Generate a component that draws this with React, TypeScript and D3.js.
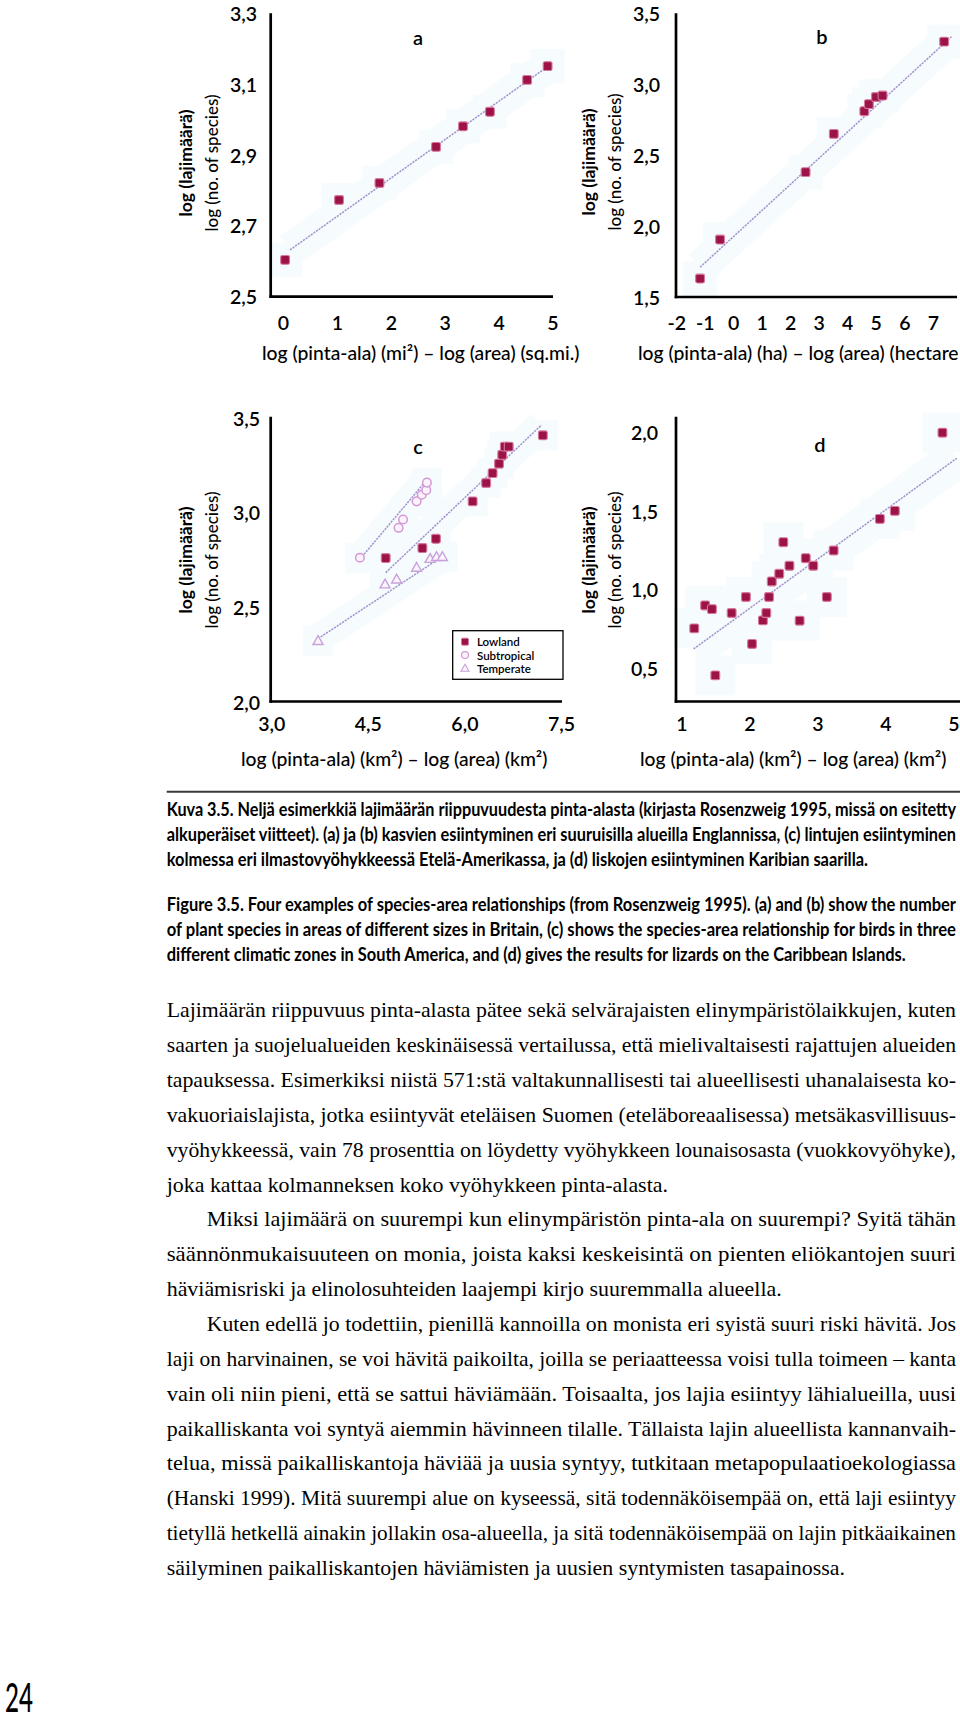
import React, { useLayoutEffect, useRef } from "react";
import * as d3 from "d3";

// ---------- data ----------
// panel a: plants in Britain (log area sq.mi. vs log species)
const aX = [0.03, 1.03, 1.78, 2.83, 3.33, 3.83, 4.52, 4.9];
const aY = [2.604, 2.773, 2.821, 2.923, 2.981, 3.022, 3.112, 3.151];
const aFit = [0.12, 2.632, 4.95, 3.155];
const aTicksX = [0, 1, 2, 3, 4, 5];
const aTicksY = [2.5, 2.7, 2.9, 3.1, 3.3];

// panel b: plants in Britain (hectares)
const bX = [-1.18, -0.48, 2.52, 3.51, 4.58, 4.74, 4.99, 5.22, 7.38];
const bY = [1.63, 1.905, 2.38, 2.65, 2.81, 2.86, 2.91, 2.92, 3.3];
const bFit = [-1.18, 1.71, 7.64, 3.335];
const bTicksX = [-2, -1, 0, 1, 2, 3, 4, 5, 6, 7];
const bTicksY = [1.5, 2.0, 2.5, 3.0, 3.5];

// panel c: birds in South America
const lowlandX = [4.77, 5.34, 5.55, 6.12, 6.33, 6.43, 6.53, 6.58, 6.62, 6.68, 7.21];
const lowlandY = [2.761, 2.814, 2.863, 3.061, 3.158, 3.21, 3.26, 3.307, 3.35, 3.35, 3.41];
const lowlandFit = [4.77, 2.684, 7.19, 3.465];
const subtropicalX = [4.37, 4.97, 5.04, 5.25, 5.33, 5.4, 5.41];
const subtropicalY = [2.763, 2.921, 2.965, 3.061, 3.096, 3.12, 3.16];
const subtropicalFit = [4.37, 2.755, 5.41, 3.175];
const temperateX = [3.72, 4.76, 4.94, 5.25, 5.46, 5.56, 5.65];
const temperateY = [2.324, 2.623, 2.649, 2.711, 2.758, 2.768, 2.768];
const temperateFit = [3.72, 2.335, 5.66, 2.772];
const cTicksX = [3.0, 4.5, 6.0, 7.5];
const cTicksY = [2.0, 2.5, 3.0, 3.5];
const cLegend = ["Lowland", "Subtropical", "Temperate"];

// panel d: lizards on Caribbean islands
const dX = [1.18, 1.34, 1.44, 1.49, 1.73, 1.94, 2.03, 2.19, 2.24, 2.28, 2.32, 2.43, 2.49, 2.58, 2.73, 2.82, 2.93, 3.13, 3.23, 3.91, 4.13, 4.83];
const dY = [0.754, 0.9, 0.877, 0.455, 0.852, 0.954, 0.655, 0.805, 0.852, 0.954, 1.053, 1.102, 1.303, 1.153, 0.803, 1.201, 1.153, 0.954, 1.25, 1.451, 1.502, 2.0];
const dFit = [1.17, 0.623, 5.04, 1.837];
const dTicksX = [1, 2, 3, 4, 5];
const dTicksY = [0.5, 1.0, 1.5, 2.0];

const panelTitles = ["a", "b", "c", "d"];
const yTitle1 = "log (lajimäärä)";
const yTitle2 = "log (no. of species)";
const xTitles = [
  "log (pinta-ala) (mi²) – log (area) (sq.mi.)",
  "log (pinta-ala) (ha) – log (area) (hectare",
  "log (pinta-ala) (km²) – log (area) (km²)",
  "log (pinta-ala) (km²) – log (area) (km²)",
];

const captionFi = [
  "Kuva 3.5. Neljä esimerkkiä lajimäärän riippuvuudesta pinta-alasta (kirjasta Rosenzweig 1995, missä on esitetty",
  "alkuperäiset viitteet). (a) ja (b) kasvien esiintyminen eri suuruisilla alueilla Englannissa, (c) lintujen esiintyminen",
  "kolmessa eri ilmastovyöhykkeessä Etelä-Amerikassa, ja (d) liskojen esiintyminen Karibian saarilla.",
];
const captionEn = [
  "Figure 3.5. Four examples of species-area relationships (from Rosenzweig 1995). (a) and (b) show the number",
  "of plant species in areas of different sizes in Britain, (c) shows the species-area relationship for birds in three",
  "different climatic zones in South America, and (d) gives the results for lizards on the Caribbean Islands.",
];
const bodyLines = [
  "Lajimäärän riippuvuus pinta-alasta pätee sekä selvärajaisten elinympäristölaikkujen, kuten",
  "saarten ja suojelualueiden keskinäisessä vertailussa, että mielivaltaisesti rajattujen alueiden",
  "tapauksessa. Esimerkiksi niistä 571:stä valtakunnallisesti tai alueellisesti uhanalaisesta ko-",
  "vakuoriaislajista, jotka esiintyvät eteläisen Suomen (eteläboreaalisessa) metsäkasvillisuus-",
  "vyöhykkeessä, vain 78 prosenttia on löydetty vyöhykkeen lounaisosasta (vuokkovyöhyke),",
  "joka kattaa kolmanneksen koko vyöhykkeen pinta-alasta.",
  "Miksi lajimäärä on suurempi kun elinympäristön pinta-ala on suurempi? Syitä tähän",
  "säännönmukaisuuteen on monia, joista kaksi keskeisintä on pienten eliökantojen suuri",
  "häviämisriski ja elinolosuhteiden laajempi kirjo suuremmalla alueella.",
  "Kuten edellä jo todettiin, pienillä kannoilla on monista eri syistä suuri riski hävitä. Jos",
  "laji on harvinainen, se voi hävitä paikoilta, joilla se periaatteessa voisi tulla toimeen – kanta",
  "vain oli niin pieni, että se sattui häviämään. Toisaalta, jos lajia esiintyy lähialueilla, uusi",
  "paikalliskanta voi syntyä aiemmin hävinneen tilalle. Tällaista lajin alueellista kannanvaih-",
  "telua, missä paikalliskantoja häviää ja uusia syntyy, tutkitaan metapopulaatioekologiassa",
  "(Hanski 1999). Mitä suurempi alue on kyseessä, sitä todennäköisempää on, että laji esiintyy",
  "tietyllä hetkellä ainakin jollakin osa-alueella, ja sitä todennäköisempää on lajin pitkäaikainen",
  "säilyminen paikalliskantojen häviämisten ja uusien syntymisten tasapainossa.",
];
const bodyIndented = [6, 9];
const bodyLastLines = [5, 8, 16];
const pageNumber = "24";

// ---------- styling ----------
const SANS = "Lato, 'Open Sans', sans-serif";
const SERIF = "'Liberation Serif', 'DejaVu Serif', serif";
const DOT = "#9c1447";
const DOT_EDGE = "#d6789f";
const OPEN_C = "#d49ad6";
const OPEN_T = "#c8a0da";
const FIT = "#a393cf";
const HALO = "#d8f3f7";

const fmtDec = (v: number) => d3.format(".1f")(v).replace(".", ",");
const fmtInt = (v: number) => String(v);

type Series = { xs: number[]; ys: number[]; fit: number[]; kind: "sq" | "circ" | "tri" };

type PanelCfg = {
  title: string;
  x: d3.ScaleLinear<number, number>;
  y: d3.ScaleLinear<number, number>;
  axX: number;
  axY: number;
  yTop: number;
  xEnd: number;
  ticksX: number[];
  ticksY: number[];
  fmtX: (v: number) => string;
  fmtY: (v: number) => string;
  xLabelY: number;
  yLabelRight: number;
  titlePos: [number, number];
  yTitleX: [number, number];
  yTitleCy: number;
  xTitle: string;
  xTitlePos: [number, number];
  series: Series[];
  halo: number;
};

const panels: PanelCfg[] = [
  {
    title: panelTitles[0],
    x: d3.scaleLinear().domain([0, 5]).range([283.5, 553]),
    y: d3.scaleLinear().domain([2.5, 3.3]).range([296.7, 13.3]),
    axX: 270.7, axY: 296.7, yTop: 13.3, xEnd: 553,
    ticksX: aTicksX, ticksY: aTicksY, fmtX: fmtInt, fmtY: fmtDec,
    xLabelY: 322, yLabelRight: 257,
    titlePos: [418, 37], yTitleX: [185, 211], yTitleCy: 163,
    xTitle: xTitles[0], xTitlePos: [262, 352],
    series: [{ xs: aX, ys: aY, fit: aFit, kind: "sq" }], halo: 34,
  },
  {
    title: panelTitles[1],
    x: d3.scaleLinear().domain([-2, 7]).range([676.7, 933.3]),
    y: d3.scaleLinear().domain([1.5, 3.5]).range([297, 13.3]),
    axX: 676, axY: 297, yTop: 13.3, xEnd: 957,
    ticksX: bTicksX, ticksY: bTicksY, fmtX: fmtInt, fmtY: fmtDec,
    xLabelY: 322, yLabelRight: 660,
    titlePos: [822, 36], yTitleX: [588, 614], yTitleCy: 162,
    xTitle: xTitles[1], xTitlePos: [638, 352],
    series: [{ xs: bX, ys: bY, fit: bFit, kind: "sq" }], halo: 34,
  },
  {
    title: panelTitles[2],
    x: d3.scaleLinear().domain([3, 7.5]).range([271.7, 561.5]),
    y: d3.scaleLinear().domain([2, 3.5]).range([702, 418.3]),
    axX: 270.7, axY: 701.5, yTop: 416.7, xEnd: 562,
    ticksX: cTicksX, ticksY: cTicksY, fmtX: fmtDec, fmtY: fmtDec,
    xLabelY: 723, yLabelRight: 260,
    titlePos: [418, 446], yTitleX: [185, 211], yTitleCy: 560,
    xTitle: xTitles[2], xTitlePos: [241, 758],
    series: [
      { xs: lowlandX, ys: lowlandY, fit: lowlandFit, kind: "sq" },
      { xs: subtropicalX, ys: subtropicalY, fit: subtropicalFit, kind: "circ" },
      { xs: temperateX, ys: temperateY, fit: temperateFit, kind: "tri" },
    ], halo: 30,
  },
  {
    title: panelTitles[3],
    x: d3.scaleLinear().domain([1, 5]).range([682, 954]),
    y: d3.scaleLinear().domain([0.5, 2.0]).range([668.3, 432.7]),
    axX: 676, axY: 701.5, yTop: 416.7, xEnd: 960,
    ticksX: dTicksX, ticksY: dTicksY, fmtX: fmtInt, fmtY: fmtDec,
    xLabelY: 723, yLabelRight: 658,
    titlePos: [820, 444], yTitleX: [588, 614], yTitleCy: 560,
    xTitle: xTitles[3], xTitlePos: [640, 758],
    series: [{ xs: dX, ys: dY, fit: dFit, kind: "sq" }], halo: 40,
  },
];

function Marker({ kind, cx, cy }: { kind: string; cx: number; cy: number }) {
  if (kind === "sq") {
    return (
      <rect x={cx - 4.4} y={cy - 4.4} width={8.8} height={8.8} rx={1.6}
        fill={DOT} stroke={DOT_EDGE} strokeWidth={1.1} />
    );
  }
  if (kind === "circ") {
    return <circle cx={cx} cy={cy} r={4.3} fill="#fbf2fb" stroke={OPEN_C} strokeWidth={1.5} />;
  }
  const s = 5;
  const p = `M${cx},${cy - s}L${cx + s},${cy + s * 0.75}L${cx - s},${cy + s * 0.75}Z`;
  return <path d={p} fill="#fbf4fd" stroke={OPEN_T} strokeWidth={1.4} />;
}

function Panel({ p }: { p: PanelCfg }) {
  const line = d3.line<[number, number]>().x((d) => p.x(d[0])).y((d) => p.y(d[1]));
  return (
    <g>
      {/* very faint cyan background blotches */}
      <g opacity={0.22}>
        {p.series.map((s, si) => (
          <g key={"h" + si}>
            <path d={line([[s.fit[0], s.fit[1]], [s.fit[2], s.fit[3]]]) || ""}
              stroke={HALO} strokeWidth={p.halo} fill="none" strokeLinecap="butt" />
            {s.xs.map((xv, i) => (
              <rect key={i} x={p.x(xv) - p.halo / 2} y={p.y(s.ys[i]) - p.halo / 2}
                width={p.halo} height={p.halo} fill={HALO} />
            ))}
          </g>
        ))}
      </g>
      {/* regression lines */}
      {p.series.map((s, si) => (
        <path key={"f" + si} d={line([[s.fit[0], s.fit[1]], [s.fit[2], s.fit[3]]]) || ""}
          stroke={FIT} strokeWidth={1.5} fill="none" strokeDasharray="2.2,1" />
      ))}
      {/* points */}
      {p.series.map((s, si) => (
        <g key={"p" + si}>
          {s.xs.map((xv, i) => (
            <Marker key={i} kind={s.kind} cx={p.x(xv)} cy={p.y(s.ys[i])} />
          ))}
        </g>
      ))}
      {/* axes */}
      <line x1={p.axX} x2={p.axX} y1={p.yTop} y2={p.axY + 1.3} stroke="#000" strokeWidth={2.7} />
      <line x1={p.axX - 1.3} x2={p.xEnd} y1={p.axY} y2={p.axY} stroke="#000" strokeWidth={2.7} />
      {/* tick labels */}
      {p.ticksY.map((t) => (
        <text key={"ty" + t} x={p.yLabelRight} y={p.y(t)} textAnchor="end" dominantBaseline="central"
          fontFamily={SANS} fontSize={19.5} fontWeight={600}>{p.fmtY(t)}</text>
      ))}
      {p.ticksX.map((t) => (
        <text key={"tx" + t} x={p.x(t)} y={p.xLabelY} textAnchor="middle" dominantBaseline="central"
          fontFamily={SANS} fontSize={19.5} fontWeight={600}>{p.fmtX(t)}</text>
      ))}
      {/* panel letter */}
      <text x={p.titlePos[0]} y={p.titlePos[1]} textAnchor="middle" dominantBaseline="central"
        fontFamily={SANS} fontSize={20} fontWeight={600}>{p.title}</text>
      {/* y title */}
      <text transform={`translate(${p.yTitleX[0]},${p.yTitleCy}) rotate(-90)`} textAnchor="middle"
        dominantBaseline="central" fontFamily={SANS} fontSize={17.5} fontWeight={700}>{yTitle1}</text>
      <text transform={`translate(${p.yTitleX[1]},${p.yTitleCy}) rotate(-90)`} textAnchor="middle"
        dominantBaseline="central" fontFamily={SANS} fontSize={17} fontWeight={500}>{yTitle2}</text>
      {/* x title */}
      <text x={p.xTitlePos[0]} y={p.xTitlePos[1]} dominantBaseline="central"
        fontFamily={SANS} fontSize={19.3} fontWeight={500}>{p.xTitle}</text>
    </g>
  );
}

function Legend() {
  const x0 = 452.7, y0 = 630.7, w = 110.3, h = 48.6;
  const rows = [641.7, 655, 668.3];
  const kinds = ["sq", "circ", "tri"];
  return (
    <g>
      <rect x={x0} y={y0} width={w} height={h} fill="#fff" stroke="#000" strokeWidth={1.3} />
      {cLegend.map((name, i) => (
        <g key={name}>
          <g transform={`translate(${465},${rows[i]}) scale(0.8) translate(${-465},${-rows[i]})`}>
            <Marker kind={kinds[i]} cx={465} cy={rows[i]} />
          </g>
          <text x={477} y={rows[i]} dominantBaseline="central" fontFamily={SANS} fontSize={11.5}
            fontWeight={600}>{name}</text>
        </g>
      ))}
    </g>
  );
}

const LEFT = 166.7;
const RIGHT = 956;
const INDENT = 40;

export default function App() {
  const ref = useRef<SVGSVGElement>(null);

  useLayoutEffect(() => {
    const fit = () => {
      if (!ref.current) return;
      const svg = d3.select(ref.current);
      ["cap", "body"].forEach((group) => {
        const nodes = svg.selectAll<SVGTextElement, unknown>(`text[data-group='${group}']`).nodes();
        const nat: number[] = [];
        const ratios: number[] = [];
        nodes.forEach((n) => {
          n.removeAttribute("textLength");
          const w = n.getComputedTextLength();
          nat.push(w);
          const t = n.getAttribute("data-target");
          if (t) ratios.push(+t / w);
        });
        const r = d3.mean(ratios) ?? 1;
        nodes.forEach((n, i) => {
          const t = n.getAttribute("data-target");
          n.setAttribute("textLength", String(t ? +t : nat[i] * r));
          n.setAttribute("lengthAdjust", "spacingAndGlyphs");
        });
      });
    };
    fit();
    if ((document as any).fonts?.ready) (document as any).fonts.ready.then(fit);
  }, []);

  const capSpacing = 25;
  const capFiBase = 816;
  const capEnBase = 910.5;
  const bodyBase = 1017.3;
  const bodySpacing = 34.85;

  return (
    <svg ref={ref} width={960} height={1727} viewBox="0 0 960 1727"
      style={{ position: "absolute", left: 0, top: 0, background: "#fff" }}>
      <rect x={0} y={0} width={960} height={1727} fill="#fff" />
      {panels.map((p) => <Panel key={p.title} p={p} />)}
      <Legend />
      <line x1={LEFT} x2={960} y1={791.7} y2={791.7} stroke="#3a3a3a" strokeWidth={2} />
      {captionFi.map((t, i) => (
        <text key={"fi" + i} data-group="cap" data-target={i < captionFi.length - 1 ? RIGHT - LEFT : undefined}
          x={LEFT} y={capFiBase + i * capSpacing} fontFamily={SANS} fontSize={18.5} fontWeight={700}>{t}</text>
      ))}
      {captionEn.map((t, i) => (
        <text key={"en" + i} data-group="cap" data-target={i < captionEn.length - 1 ? RIGHT - LEFT : undefined}
          x={LEFT} y={capEnBase + i * capSpacing} fontFamily={SANS} fontSize={18.5} fontWeight={700}>{t}</text>
      ))}
      {bodyLines.map((t, i) => {
        const ind = bodyIndented.includes(i) ? INDENT : 0;
        const last = bodyLastLines.includes(i);
        return (
          <text key={"b" + i} data-group="body" data-target={last ? undefined : RIGHT - LEFT - ind}
            x={LEFT + ind} y={bodyBase + i * bodySpacing} fontFamily={SERIF} fontSize={22}>{t}</text>
        );
      })}
      <text x={5} y={1712} fontFamily={SANS} fontSize={40} fontWeight={500} textLength={28}
        lengthAdjust="spacingAndGlyphs">{pageNumber}</text>
    </svg>
  );
}
